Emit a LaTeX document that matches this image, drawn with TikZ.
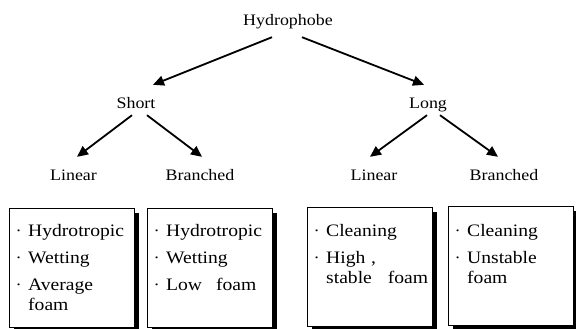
\documentclass[tikz,border=0pt]{standalone}
\usepackage{fontspec}
\setmainfont{Liberation Serif}[FakeStretch=1.12]
\usetikzlibrary{arrows.meta, shadows, positioning}

% one bullet line of a feature box, and its wrapped line
\newcommand{\bitem}[1]{\par\parskip=7pt\noindent\makebox[11pt][l]{\raisebox{3pt}{\fontsize{8}{8}\selectfont\textbullet}}#1}
\newcommand{\bcont}[1]{\par\parskip=0pt\noindent\hspace*{11pt}#1}

\begin{document}
\begin{tikzpicture}[x=1pt, y=-1pt]
        \tikzstyle{class node}=[anchor=base, inner sep=0pt, text height=11pt, text depth=3.5pt, font=\fontsize{16}{18}\selectfont]
        \tikzstyle{split arrow}=[line width=1.8pt, -{Triangle[length=11pt,width=10pt]}]
        \tikzstyle{feature box}=[draw, line width=1.2pt, fill=white, anchor=north west, minimum width=125pt, minimum height=119pt,
                                 drop shadow={shadow xshift=4pt, shadow yshift=-4pt, fill=black, opacity=1}]
        \tikzstyle{feature text}=[anchor=north west, inner sep=0pt, text width=122pt, font=\fontsize{17.5}{20}\selectfont]

        \useasboundingbox (0,0) rectangle (576,329);

        % Draw the tree labels
        \node[class node] (hyd) at (288,26) {Hydrophobe};
        \node[class node] (short) at (136,108) {Short};
        \node[class node] (long) at (428,108) {Long};
        \node[class node] (lin-1) at (73.5,180) {Linear};
        \node[class node] (br-1) at (200,180) {Branched};
        \node[class node] (lin-2) at (374,180) {Linear};
        \node[class node] (br-2) at (504,180) {Branched};

        % Connect the levels
        \draw[split arrow] ([shift={(-16,7.5)}]hyd.south) -- ([shift={(17,-12)}]short.north);
        \draw[split arrow] ([shift={(14,7.5)}]hyd.south) -- ([shift={(-4,-12)}]long.north);
        \draw[split arrow] ([shift={(-4,3.5)}]short.south) -- ([shift={(3.5,-12)}]lin-1.north);
        \draw[split arrow] ([shift={(11,3.5)}]short.south) -- ([shift={(2,-12)}]br-1.north);
        \draw[split arrow] ([shift={(-1,3.5)}]long.south) -- ([shift={(-4,-12)}]lin-2.north);
        \draw[split arrow] ([shift={(12,3.5)}]long.south) -- ([shift={(-6,-12)}]br-2.north);

        % Draw the boxes
        \foreach \name / \x / \y in {1/9/208, 2/147/208, 3/307/207, 4/448/206}
            \node[feature box] (box-\name) at (\x,\y) {};

        % Fill in the properties
        \node[feature text] (txt-1) at ([shift={(8,1)}]box-1.north west)
            {\bitem{Hydrotropic}\bitem{Wetting}\bitem{Average}\bcont{foam}};
        \node[feature text] (txt-2) at ([shift={(8,1)}]box-2.north west)
            {\bitem{Hydrotropic}\bitem{Wetting}\bitem{Low\hspace{14pt}foam}};
        \node[feature text] (txt-3) at ([shift={(8,2)}]box-3.north west)
            {\bitem{Cleaning}\bitem{High ,}\bcont{stable\hspace{16pt}foam}};
        \node[feature text] (txt-4) at ([shift={(8,3)}]box-4.north west)
            {\bitem{Cleaning}\bitem{Unstable}\bcont{foam}};
\end{tikzpicture}
\end{document}
